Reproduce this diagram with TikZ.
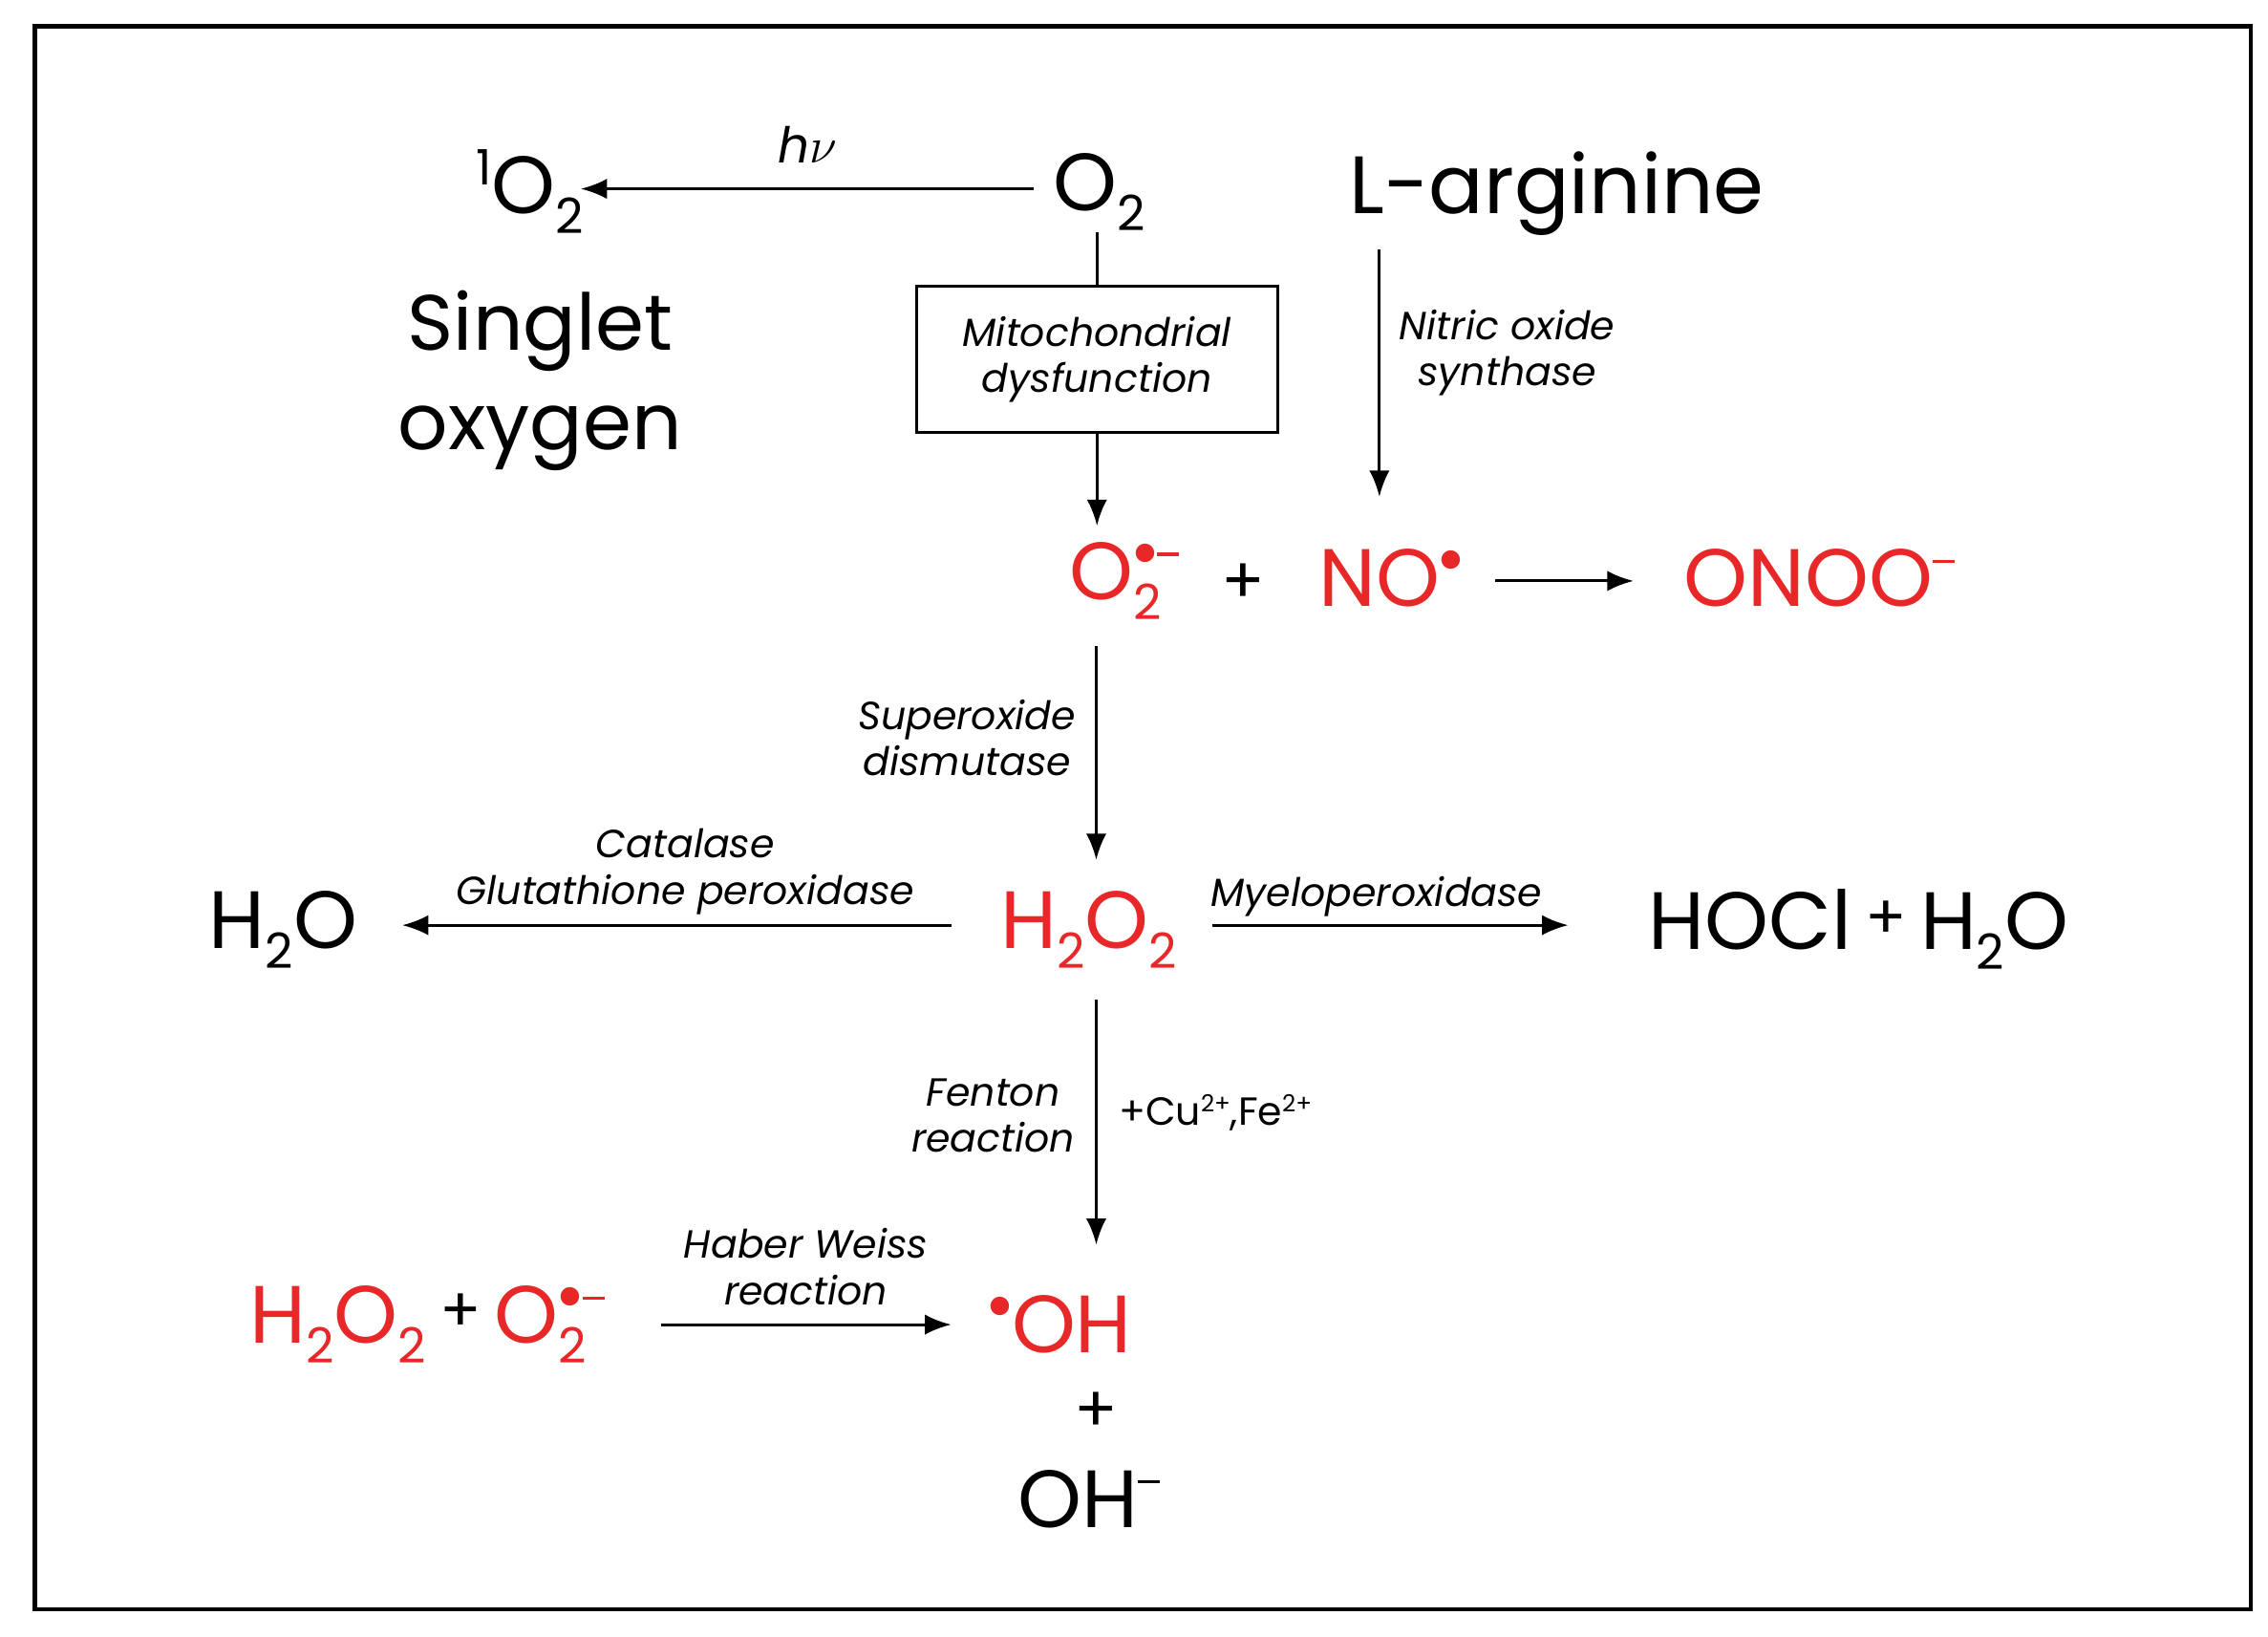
\documentclass[tikz,border=0pt]{standalone}
\usepackage{fontspec}
\setmainfont{Poppins}
\usetikzlibrary{arrows.meta}
\definecolor{rr}{RGB}{232,40,40}
\newcommand{\chsb}[1]{\raisebox{-0.45ex}{\scalebox{0.6}{#1}}}
\newcommand{\chsp}[1]{\raisebox{0.65ex}{\scalebox{0.6}{#1}}}
\newcommand{\rdot}{\raisebox{0.2ex}{\scalebox{1.1}{$\bullet$}}}
\newcommand{\rdash}{\rule[0.55ex]{0.45em}{0.12ex}}
\newcommand{\supr}{O\rlap{\chsp{\rdot\rdash}}\chsb{2}\hspace{0.45em}}
\newcommand{\pls}{\raisebox{0.25ex}{\scalebox{0.75}{+}}}
\begin{document}
\begin{tikzpicture}[x=0.5pt,y=-0.5pt,
  big/.style={font=\fontsize{28}{32}\selectfont, inner sep=0pt},
  sing/.style={font=\fontsize{27}{34}\selectfont, align=center, inner sep=0pt},
  lab/.style={font=\fontsize{13.5}{16}\selectfont\itshape, align=center, inner sep=0pt},
  arr/.style={-{Latex[length=9pt,width=7pt]}, line width=1pt},
  ln/.style={line width=1pt}]
\useasboundingbox (0,0) rectangle (1562,1127);
\draw[line width=1.5pt] (24,18) rectangle (1550,1108);
\node[big] (so) at (365,132) {\chsp{1}O\chsb{2}};
\node[big] (o2) at (757,132) {O\chsb{2}};
\node[big] (arg) at (1072,133) {L-arginine};
\node[sing] (sing) at (372,262) {Singlet\\oxygen};
\coordinate (a1) at (712,130); \coordinate (a2) at (400,130);
\draw[arr] (a1) -- (a2) node[midway, above=5pt, font=\fontsize{17}{20}\selectfont\itshape] {h$\nu$};
\node[draw, line width=1pt, minimum width=249*0.5pt, minimum height=101*0.5pt, lab] (box) at (755.5,247.5) {Mitochondrial\\dysfunction};
\coordinate (o2b) at (755.5,160);
\draw[ln] (o2b) -- (box.north);
\coordinate (sup1) at (755.5,362);
\draw[arr] (box.south) -- (sup1);
\coordinate (n1) at (950,172); \coordinate (n2) at (950,342);
\draw[arr] (n1) -- (n2);
\node[lab] (nos) at (1038,243) {Nitric oxide\\synthase};
\node[big, text=rr] (sup) at (768,400) {\supr};
\node[big, font=\fontsize{22}{26}\selectfont] (pl1) at (856,402) {+};
\node[big, text=rr] (no) at (958,398) {NO\chsp{\rdot}};
\coordinate (b1) at (1030,400); \coordinate (b2) at (1125,400);
\draw[arr] (b1) -- (b2);
\node[big, text=rr] (onoo) at (1253,398) {ONOO\chsp{\rdash}};
\coordinate (c1) at (755,445); \coordinate (c2) at (755,592);
\draw[arr] (c1) -- (c2);
\node[lab] (sod) at (666,508) {Superoxide\\dismutase};
\node[big, text=rr] (h2o2) at (750,640) {H\chsb{2}O\chsb{2}};
\node[big] (h2o) at (195,640) {H\chsb{2}O};
\coordinate (d1) at (655,637); \coordinate (d2) at (277,637);
\draw[arr] (d1) -- (d2);
\node[lab] (cat) at (472,600) {Catalase\\Glutathione peroxidase};
\coordinate (e1) at (835,637); \coordinate (e2) at (1080,637);
\draw[arr] (e1) -- (e2);
\node[lab] (mpo) at (948,617) {Myeloperoxidase};
\node[big] (hocl) at (1280,640) {HOCl\,\pls\,H\chsb{2}O};
\coordinate (f1) at (755,688); \coordinate (f2) at (755,857);
\draw[arr] (f1) -- (f2);
\node[lab] (fen) at (684,768) {Fenton\\reaction};
\node[lab, font=\fontsize{13.5}{16}\selectfont] (cu) at (837,766) {+Cu\chsp{2+},Fe\chsp{2+}};
\node[big, text=rr] (bl) at (288,912) {H\chsb{2}O\chsb{2}\,\textcolor{black}{\pls}\,\supr};
\coordinate (g1) at (455,912); \coordinate (g2) at (655,912);
\draw[arr] (g1) -- (g2);
\node[lab] (hw) at (555,872) {Haber Weiss\\reaction};
\node[big, text=rr] (oh) at (730,912) {\chsp{\rdot}OH};
\node[big, font=\fontsize{22}{26}\selectfont] (pl2) at (755,972) {+};
\node[big] (ohm) at (750,1032) {OH\chsp{\rdash}};
\end{tikzpicture}
\end{document}
